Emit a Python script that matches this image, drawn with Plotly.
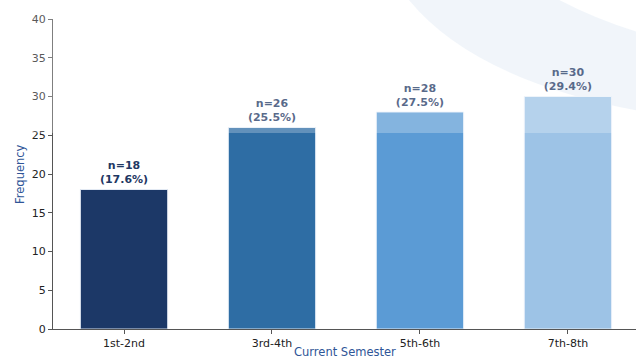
import plotly.graph_objects as go

categories = ["1st-2nd", "3rd-4th", "5th-6th", "7th-8th"]
counts = [18, 26, 28, 30]
percents = [17.6, 25.5, 27.5, 29.4]
bar_colors = ["#1c3867", "#2e6da4", "#5b9bd5", "#9dc3e6"]
x_title = "Current Semester"
y_title = "Frequency"

W, H = 636, 360
L, R, T, B = 53, 0, 19, 31
PW, PH = W - L - R, H - T - B

def px(x):
    return (x - L) / PW

def py(y):
    return (H - B - y) / PH

labels = [f"<b>n={c}<br>({p:.1f}%)</b>" for c, p in zip(counts, percents)]

fig = go.Figure()
fig.add_trace(go.Bar(
    x=categories, y=counts, width=0.59,
    marker=dict(color=bar_colors, line=dict(color="rgba(235,242,250,0.9)", width=1)),
    text=labels, textposition="outside", cliponaxis=False,
    textfont=dict(family="DejaVu Sans", size=11, color="#1f3864"),
))

band = (f"M {px(405)},{py(-5)} Q {px(470)},{py(80)} {px(645)},{py(112)} "
        f"L {px(645)},{py(34)} Q {px(595)},{py(20)} {px(550)},{py(-5)} Z")
fig.add_shape(type="path", path=band, xref="paper", yref="paper",
              fillcolor="rgba(205,220,238,0.38)", line=dict(width=0), layer="below")
fig.add_shape(type="rect", xref="paper", yref="paper",
              x0=px(0), x1=px(W), y0=py(133), y1=py(0),
              fillcolor="rgba(255,255,255,0.25)", line=dict(width=0), layer="above")

fig.add_annotation(text=x_title, xref="paper", yref="paper", x=px(345), y=py(360.5),
                   xanchor="center", yanchor="bottom", showarrow=False,
                   font=dict(size=11.5, color="#2f5597"))
fig.add_annotation(text=y_title, xref="paper", yref="paper", x=px(20), y=py(174),
                   xanchor="center", yanchor="middle", textangle=-90, showarrow=False,
                   font=dict(size=11.5, color="#2f5597"))

fig.update_layout(
    width=W, height=H, margin=dict(l=L, r=R, t=T, b=B),
    paper_bgcolor="white", plot_bgcolor="rgba(0,0,0,0)",
    showlegend=False, bargap=0.4,
    font=dict(family="DejaVu Sans", size=11, color="#222"),
)
fig.update_xaxes(range=[-0.48, 3.46], showline=True, linecolor="#555", linewidth=1,
                 ticks="outside", ticklen=4, tickcolor="#555", showgrid=False, automargin=False,
                 tickfont=dict(size=11, color="#222"))
fig.update_yaxes(range=[0, 40], dtick=5, showline=True, linecolor="#555", linewidth=1,
                 ticks="outside", ticklen=4, tickcolor="#555", showgrid=False, zeroline=False,
                 automargin=False, tickfont=dict(size=11, color="#222"))

fig.write_html("out.html")
